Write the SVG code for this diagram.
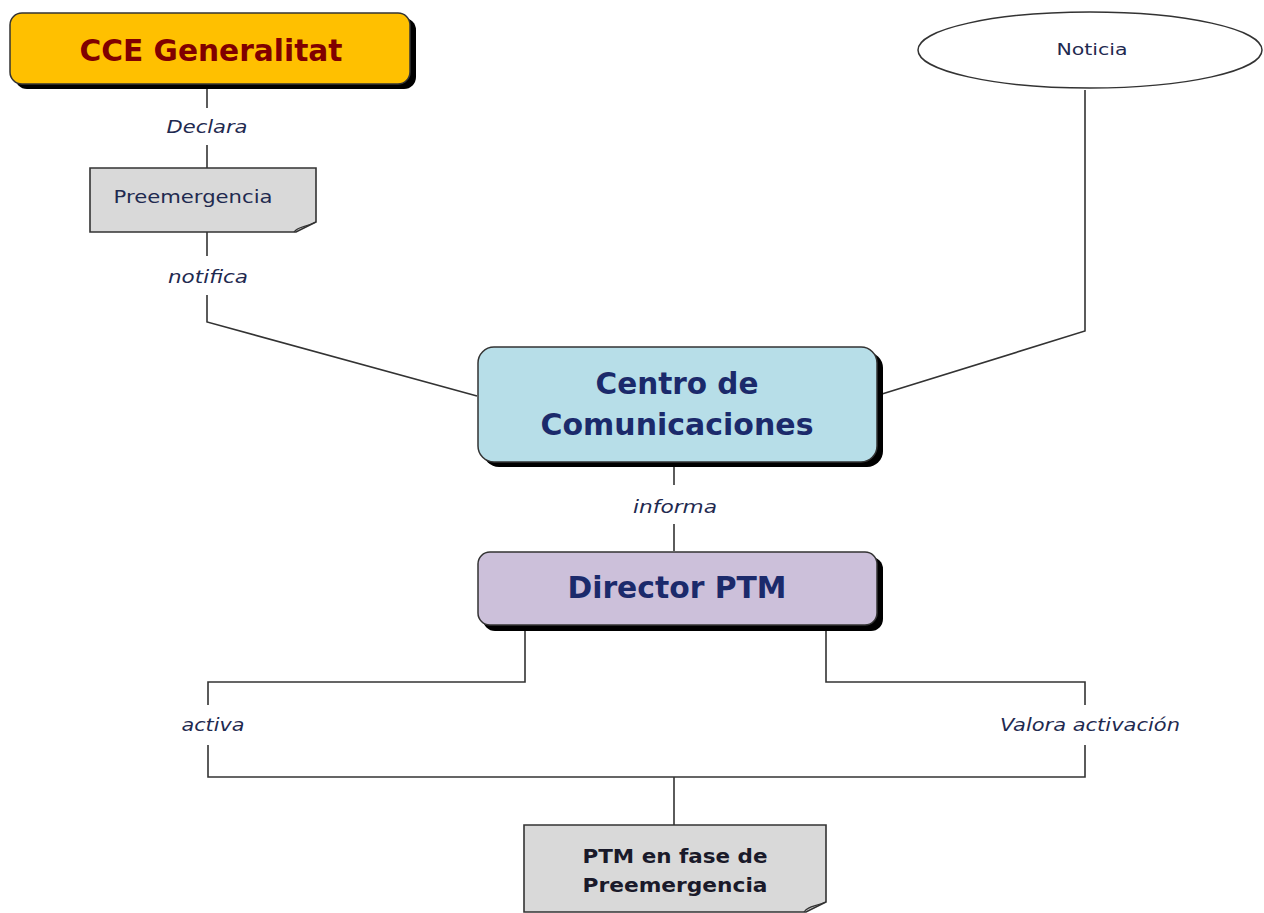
<svg xmlns="http://www.w3.org/2000/svg" width="1264" height="913" viewBox="0 0 1264 913">
<defs>
<style>
.ln{fill:none;stroke:#333;stroke-width:1.6}
.lbl{font-family:"DejaVu Sans","Liberation Sans",sans-serif;font-style:italic;font-size:17px;fill:#1F2A50;text-anchor:middle}
.big{font-family:"DejaVu Sans","Liberation Sans",sans-serif;font-weight:bold;font-size:30px;text-anchor:middle}
.shadow{fill:#000}
.doc{fill:#D9D9D9;stroke:#333;stroke-width:1.6}
</style>
</defs>
<rect width="1264" height="913" fill="#fff"/>
<g id="connectors">
<line class="ln" x1="207" y1="86" x2="207" y2="108"/>
<line class="ln" x1="207" y1="145" x2="207" y2="168"/>
<line class="ln" x1="207" y1="232" x2="207" y2="256"/>
<polyline class="ln" points="207,295 207,322 477,396"/>
<polyline class="ln" points="1085,90 1085,331 882,394"/>
<line class="ln" x1="674" y1="466" x2="674" y2="485"/>
<line class="ln" x1="674" y1="524" x2="674" y2="551"/>
<polyline class="ln" points="525,630 525,682 208,682 208,705"/>
<polyline class="ln" points="826,630 826,682 1085,682 1085,705"/>
<polyline class="ln" points="208,745 208,777 1085,777 1085,745"/>
<line class="ln" x1="674" y1="777" x2="674" y2="825"/>
<text class="lbl" x="207" y="133" textLength="81" lengthAdjust="spacingAndGlyphs">Declara</text>
<text class="lbl" x="208" y="283" textLength="80" lengthAdjust="spacingAndGlyphs">notifica</text>
<text class="lbl" x="675" y="513" textLength="84" lengthAdjust="spacingAndGlyphs">informa</text>
<text class="lbl" x="213" y="731" textLength="63" lengthAdjust="spacingAndGlyphs">activa</text>
<text class="lbl" x="1090" y="731" textLength="180" lengthAdjust="spacingAndGlyphs">Valora activación</text>
</g>
<g id="cce">
<rect class="shadow" x="15" y="18" width="401" height="71" rx="12"/>
<rect x="10" y="13" width="400" height="71" rx="12" fill="#FFC000" stroke="#333" stroke-width="1.5"/>
<text class="big" x="211" y="61" fill="#800000" textLength="263" lengthAdjust="spacingAndGlyphs">CCE Generalitat</text>
</g>
<g id="preemergencia">
<path class="doc" d="M90,168 H316 V222 L296,232 H90 Z"/>
<path d="M294,232 C298,226 304,228 316,222" fill="none" stroke="#333" stroke-width="1.2"/>
<text x="193" y="203" font-family="DejaVu Sans, Liberation Sans, sans-serif" font-size="18" fill="#1F2A50" text-anchor="middle" textLength="159" lengthAdjust="spacingAndGlyphs">Preemergencia</text>
</g>
<g id="noticia">
<ellipse cx="1090" cy="50" rx="172" ry="38" fill="#fff" stroke="#333" stroke-width="1.5"/>
<text x="1092" y="55" font-family="DejaVu Sans, Liberation Sans, sans-serif" font-size="16" fill="#1F2A50" text-anchor="middle" textLength="71" lengthAdjust="spacingAndGlyphs">Noticia</text>
</g>
<g id="centro">
<rect class="shadow" x="483" y="352" width="400" height="115" rx="16"/>
<rect x="478" y="347" width="399" height="115" rx="16" fill="#B7DEE8" stroke="#333" stroke-width="1.5"/>
<text class="big" x="677" y="394" fill="#1B2A6B" textLength="163" lengthAdjust="spacingAndGlyphs">Centro de</text>
<text class="big" x="677" y="435" fill="#1B2A6B" textLength="273" lengthAdjust="spacingAndGlyphs">Comunicaciones</text>
</g>
<g id="director">
<rect class="shadow" x="483" y="557" width="400" height="74" rx="12"/>
<rect x="478" y="552" width="399" height="73" rx="12" fill="#CCC0DA" stroke="#333" stroke-width="1.5"/>
<text class="big" x="677" y="598" fill="#1B2A6B" textLength="219" lengthAdjust="spacingAndGlyphs">Director PTM</text>
</g>
<g id="ptm">
<path class="doc" d="M524,825 H826 V902 L806,912 H524 Z"/>
<path d="M804,912 C808,906 814,907 826,902" fill="none" stroke="#333" stroke-width="1.2"/>
<text x="675" y="863" font-family="DejaVu Sans, Liberation Sans, sans-serif" font-weight="bold" font-size="20" fill="#1a1a2a" text-anchor="middle" textLength="185" lengthAdjust="spacingAndGlyphs">PTM en fase de</text>
<text x="675" y="892" font-family="DejaVu Sans, Liberation Sans, sans-serif" font-weight="bold" font-size="20" fill="#1a1a2a" text-anchor="middle" textLength="185" lengthAdjust="spacingAndGlyphs">Preemergencia</text>
</g>
</svg>
